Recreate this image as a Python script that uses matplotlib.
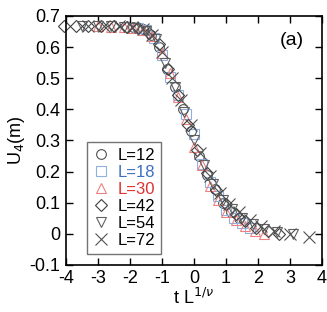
import matplotlib
matplotlib.use('Agg')
import matplotlib.pyplot as plt

plt.rcParams['font.family'] = ['Liberation Sans', 'DejaVu Sans']
plt.rcParams['axes.unicode_minus'] = False

labels = ['L=12', 'L=18', 'L=30', 'L=42', 'L=54', 'L=72']

x_12 = [-1.9, -1.6, -1.35, -1.1, -0.85, -0.6, -0.35, -0.1, 0.15, 0.4, 0.65, 0.9, 1.15, 1.4]
y_12 = [0.663, 0.658, 0.64, 0.60, 0.53, 0.47, 0.40, 0.33, 0.25, 0.19, 0.145, 0.10, 0.07, 0.05]

x_18 = [-1.75, -1.5, -1.25, -1.0, -0.75, -0.5, -0.25, 0.0, 0.25, 0.5, 0.75, 1.0, 1.25, 1.5, 1.75]
y_18 = [0.662, 0.655, 0.63, 0.575, 0.505, 0.445, 0.385, 0.32, 0.225, 0.165, 0.12, 0.075, 0.05, 0.035, 0.02]

x_30 = [-3.0, -2.6, -2.2, -1.9, -1.6, -1.3, -1.0, -0.75, -0.5, -0.25, 0.0, 0.25, 0.5, 0.75, 1.0, 1.3, 1.6, 1.9, 2.2]
y_30 = [0.666, 0.665, 0.664, 0.662, 0.655, 0.635, 0.58, 0.515, 0.44, 0.37, 0.28, 0.22, 0.155, 0.11, 0.07, 0.045, 0.025, 0.01, 0.0]

x_42 = [-4.05, -3.7, -3.3, -2.9, -2.5, -2.1, -1.75, -1.4, -1.1, -0.8, -0.5, -0.2, 0.1, 0.4, 0.7, 1.0, 1.3, 1.6, 1.95, 2.3, 2.65]
y_42 = [0.667, 0.667, 0.667, 0.666, 0.666, 0.664, 0.66, 0.645, 0.61, 0.53, 0.445, 0.35, 0.27, 0.195, 0.14, 0.095, 0.065, 0.04, 0.02, 0.008, 0.0]

x_54 = [-3.5, -3.0, -2.6, -2.2, -1.85, -1.5, -1.2, -0.9, -0.6, -0.3, 0.0, 0.3, 0.6, 0.9, 1.2, 1.5, 1.85, 2.2, 2.6, 3.1]
y_54 = [0.667, 0.667, 0.666, 0.665, 0.661, 0.65, 0.625, 0.55, 0.47, 0.39, 0.30, 0.22, 0.16, 0.11, 0.08, 0.05, 0.03, 0.015, 0.005, 0.0]

x_72 = [-3.3, -2.8, -2.35, -1.95, -1.6, -1.3, -1.0, -0.7, -0.4, -0.1, 0.2, 0.5, 0.8, 1.1, 1.4, 1.75, 2.1, 2.5, 3.0, 3.6]
y_72 = [0.667, 0.667, 0.666, 0.664, 0.658, 0.64, 0.585, 0.50, 0.43, 0.35, 0.26, 0.185, 0.13, 0.095, 0.07, 0.045, 0.025, 0.01, 0.0, -0.01]

series = [(x_12, y_12), (x_18, y_18), (x_30, y_30), (x_42, y_42), (x_54, y_54), (x_72, y_72)]
markers = ['o', 's', '^', 'D', 'v', 'x']
sizes = [7, 7, 7, 6, 7, 8]
colors = ['#505050', '#8fb0e0', '#f08080', '#404040', '#606060', '#505050']
text_colors = ['black', '#3d6fc4', '#e03030', 'black', 'black', 'black']

fig = plt.figure(figsize=(3.27, 3.12), dpi=100)
ax = fig.add_axes([0.202, 0.151, 0.783, 0.798])

for (xs, ys), lab, m, ms, c in zip(series, labels, markers, sizes, colors):
    ax.plot(xs, ys, linestyle='none', marker=m, markersize=ms, markerfacecolor='none',
            markeredgecolor=c, markeredgewidth=0.8, label=lab, clip_on=False)

ax.set_xlim(-4, 4)
ax.set_ylim(-0.1, 0.7)
ax.set_xticks(range(-4, 5))
ax.set_yticks([-0.1, 0, 0.1, 0.2, 0.3, 0.4, 0.5, 0.6, 0.7])
ax.set_yticklabels(['-0.1', '0', '0.1', '0.2', '0.3', '0.4', '0.5', '0.6', '0.7'])
ax.tick_params(direction='in', top=True, right=True, length=5, width=1, labelsize=13, pad=4)
for sp in ax.spines.values():
    sp.set_linewidth(1.2)

ax.set_xlabel(r't L$^{1/\nu}$', fontsize=13, labelpad=0)
ax.set_ylabel(r'U$_4$(m)', fontsize=13, labelpad=2)
ax.text(0.93, 0.9, '(a)', transform=ax.transAxes, fontsize=14, ha='right', va='center')

leg = ax.legend(loc='lower left', bbox_to_anchor=(0.08, 0.045), fontsize=12, frameon=True,
                fancybox=False, edgecolor='#505050', handlelength=1.0, handletextpad=0.5,
                labelspacing=0.12, borderpad=0.35, borderaxespad=0)
leg.get_frame().set_linewidth(1.0)
for t, c in zip(leg.get_texts(), text_colors):
    t.set_color(c)

fig.savefig('out.png', dpi=100)
plt.close(fig)
